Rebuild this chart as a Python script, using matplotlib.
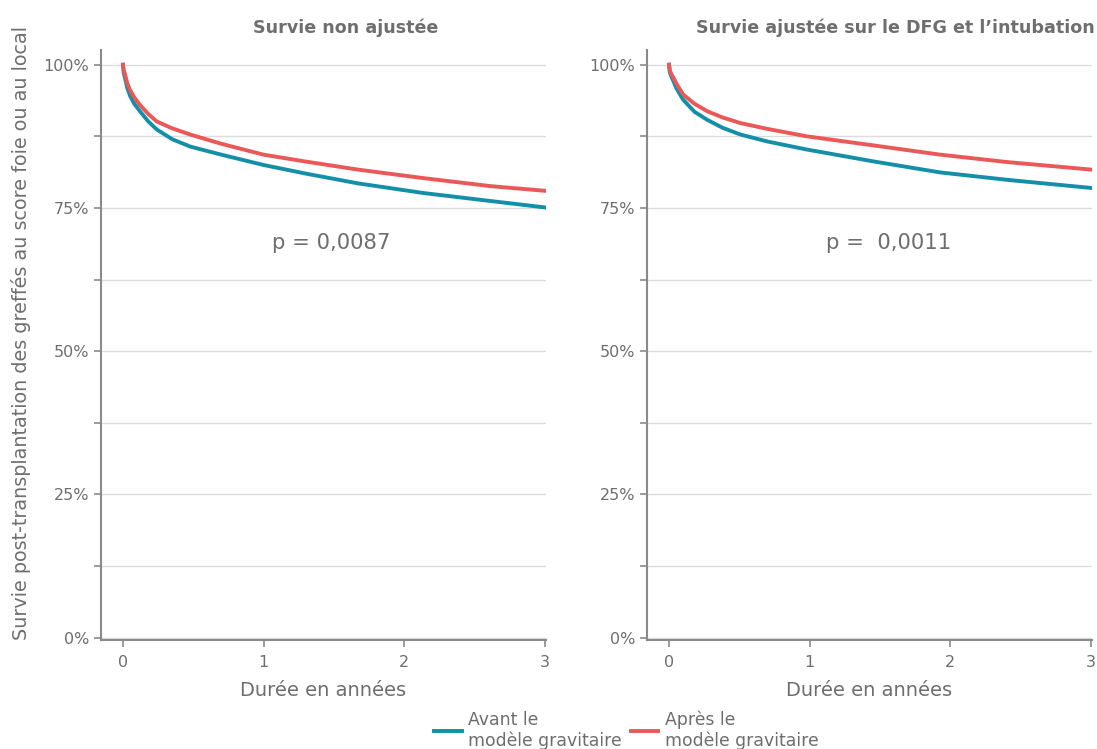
import numpy as np
import matplotlib.pyplot as plt
from matplotlib.ticker import FixedLocator, PercentFormatter

# valeurs (années, survie)
t_brut = [0, 0.005, 0.014, 0.03, 0.05, 0.08, 0.12, 0.18, 0.24, 0.35, 0.48, 0.7, 1.0, 1.3, 1.67, 2.14, 2.62, 3.0]
avant_brut = [1.0, 0.986, 0.977, 0.960, 0.946, 0.932, 0.919, 0.901, 0.887, 0.870, 0.857, 0.843, 0.825, 0.810, 0.793, 0.776, 0.762, 0.751]
apres_brut = [1.0, 0.990, 0.984, 0.968, 0.956, 0.943, 0.930, 0.914, 0.901, 0.889, 0.878, 0.862, 0.843, 0.831, 0.817, 0.802, 0.788, 0.780]

t_ajust = [0, 0.005, 0.015, 0.03, 0.05, 0.1, 0.18, 0.27, 0.38, 0.51, 0.7, 0.98, 1.46, 1.93, 2.41, 3.0]
avant_ajust = [1.0, 0.987, 0.980, 0.972, 0.960, 0.939, 0.918, 0.904, 0.890, 0.878, 0.866, 0.852, 0.831, 0.812, 0.799, 0.785]
apres_ajust = [1.0, 0.990, 0.984, 0.978, 0.968, 0.948, 0.932, 0.919, 0.908, 0.898, 0.888, 0.875, 0.859, 0.843, 0.830, 0.817]

titres = ["Survie non ajustée", "Survie ajustée sur le DFG et l\u2019intubation"]
pvals = ["p = 0,0087", "p =  0,0011"]
pval_pos = [(1.48, 0.688), (1.56, 0.688)]
labels = ["Avant le\nmodèle gravitaire", "Après le\nmodèle gravitaire"]

c_avant = "#138fa7"
c_apres = "#ea5858"
gris = "#6e6e6e"

fig = plt.figure(figsize=(10.97, 7.49), dpi=100)
ax1 = fig.add_axes([0.092, 0.1455, 0.4057, 0.788])
ax2 = fig.add_axes([0.5898, 0.1455, 0.4057, 0.788])

donnees = [(t_brut, avant_brut, apres_brut), (t_ajust, avant_ajust, apres_ajust)]
lignes = []
for i, ax in enumerate([ax1, ax2]):
    t, av, ap = donnees[i]
    l1, = ax.plot(t, av, color=c_avant, lw=2.8, label=labels[0])
    l2, = ax.plot(t, ap, color=c_apres, lw=2.8, label=labels[1])
    lignes = [l1, l2]
    ax.set_xlim(-0.157, 3.01)
    ax.set_ylim(-0.004, 1.026)
    ax.set_xticks([0, 1, 2, 3])
    ax.yaxis.set_major_locator(FixedLocator([0, 0.25, 0.5, 0.75, 1.0]))
    ax.yaxis.set_minor_locator(FixedLocator([0.125, 0.375, 0.625, 0.875]))
    ax.yaxis.set_major_formatter(PercentFormatter(1.0, decimals=0))
    ax.grid(axis="y", which="both", color="#dcdcdc", lw=1.0)
    ax.set_axisbelow(True)
    for s in ["top", "right"]:
        ax.spines[s].set_visible(False)
    for s in ["left", "bottom"]:
        ax.spines[s].set_color("#8a8a8a")
        ax.spines[s].set_linewidth(1.5)
    ax.tick_params(which="both", colors="#8a8a8a", labelcolor=gris, labelsize=11.5, length=5, width=1.2)
    ax.tick_params(axis="x", pad=6)
    ax.set_xlabel("Durée en années", color=gris, fontsize=14, labelpad=8)
    ax.text(pval_pos[i][0], pval_pos[i][1], pvals[i], color=gris, fontsize=15.2, ha="center", va="center")

ax1.set_ylabel("Survie post-transplantation des greffés au score foie ou au local", color=gris, fontsize=13.8)
ax1.yaxis.set_label_coords(-0.158, 0.52)

fig.text(0.3155, 0.963, titres[0], color=gris, fontsize=12.6, fontweight="bold", ha="center", va="center")
fig.text(0.8165, 0.963, titres[1], color=gris, fontsize=12.6, fontweight="bold", ha="center", va="center")

fig.legend(handles=lignes, labels=labels, loc="center", bbox_to_anchor=(0.571, 0.025), ncol=2,
           frameon=False, fontsize=12.4, labelcolor=gris, handlelength=1.6, handletextpad=0.4,
           columnspacing=0.5, borderaxespad=0)

plt.savefig("out.png", dpi=100)
